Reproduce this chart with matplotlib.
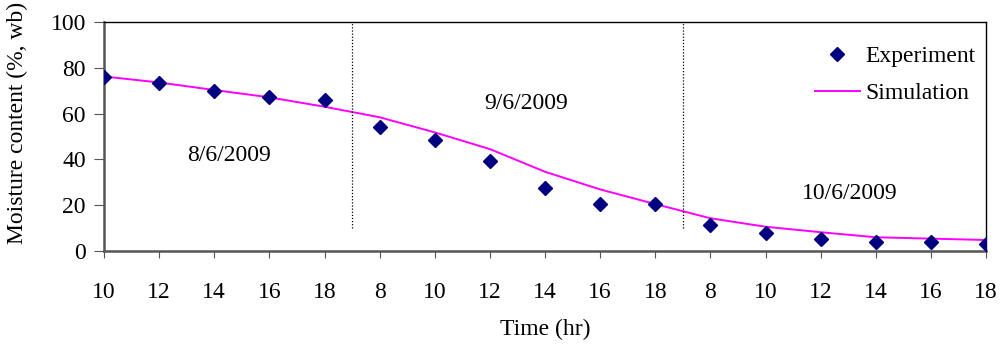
import matplotlib
matplotlib.use("Agg")
from matplotlib import pyplot as plt

hour_labels = ["10", "12", "14", "16", "18",
               "8", "10", "12", "14", "16", "18",
               "8", "10", "12", "14", "16", "18"]
experiment = [76.2, 73.4, 70.0, 67.1, 65.8,
              54.0, 48.3, 39.3, 27.4, 20.7, 20.7,
              11.5, 8.0, 5.4, 3.8, 3.8, 3.2]
simulation = [76.2, 73.6, 70.3, 67.1, 63.0,
              58.4, 51.8, 44.5, 34.6, 26.9, 20.5,
              14.3, 10.6, 8.2, 6.0, 5.4, 4.8]
day_labels = ["8/6/2009", "9/6/2009", "10/6/2009"]
day_label_pos = [(2.27, 41.5), (7.65, 64.6), (13.53, 25.3)]
day_breaks = [4.5, 10.5]

plt.rcParams["font.family"] = "Liberation Serif"
plt.rcParams["font.size"] = 17

fig = plt.figure(figsize=(10.01, 3.51), dpi=100)
ax = fig.add_axes([104 / 1001, 1 - 251 / 351, 882 / 1001, 229 / 351])

x = list(range(len(hour_labels)))
ax.plot(x, simulation, color="#ff00ff", lw=1.4, label="Simulation", zorder=2)
ax.plot(x, experiment, linestyle="none", marker="D", ms=7, color="#000080",
        label="Experiment", zorder=3)

for xb in day_breaks:
    ax.plot([xb, xb], [10, 100], color="black", lw=0.9, linestyle=(0, (1, 1.5)))

for txt, (tx, ty) in zip(day_labels, day_label_pos):
    ax.text(tx, ty, txt, ha="center", va="center", fontsize=17)

ax.set_xlim(0, 16)
ax.set_ylim(0, 100)
ax.set_xticks(x)
ax.set_xticklabels(hour_labels)
ax.set_yticks(range(0, 101, 20))
ax.tick_params(axis="x", length=5, pad=17, color="#555555", labelsize=17)
ax.tick_params(axis="y", length=7, pad=6, color="#555555", labelsize=17)

for s in ["left", "bottom"]:
    ax.spines[s].set_color("#555555")
    ax.spines[s].set_linewidth(1.8)
for s in ["top", "right"]:
    ax.spines[s].set_color("black")
    ax.spines[s].set_linewidth(1.0)

ax.set_xlabel("Time (hr)", fontsize=17, labelpad=12)
ax.set_ylabel("Moisture content (%, wb)", fontsize=17)
ax.yaxis.set_label_coords(-0.086, 0.56)

handles, labels = ax.get_legend_handles_labels()
ax.legend(handles[::-1], labels[::-1], loc="upper right", frameon=False,
          fontsize=17, bbox_to_anchor=(1.015, 1.0), handlelength=1.9,
          handletextpad=0.25, labelspacing=0.66, borderaxespad=0.6)

fig.savefig("out.png", dpi=100)
